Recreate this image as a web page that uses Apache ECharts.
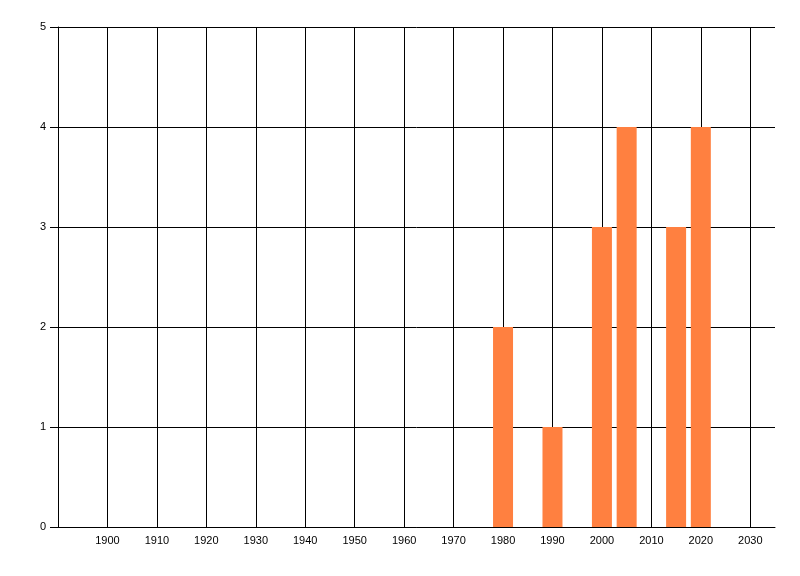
<!DOCTYPE html>
<html>
<head>
<meta charset="utf-8">
<script src="https://cdn.jsdelivr.net/npm/echarts@6/dist/echarts.min.js"></script>
<style>
  html, body { margin: 0; padding: 0; background: #fff; }
  #chart { width: 800px; height: 576px; }
</style>
</head>
<body>
<div id="chart"></div>
<script>
// data
const years = [1980, 1990, 2000, 2005, 2015, 2020]
const counts = [2, 1, 3, 4, 3, 4]

const chart = echarts.init(document.getElementById('chart'))

chart.setOption({
  animation: false,
  grid: { left: 58, right: 25, top: 27, bottom: 49 },
  xAxis: {
    type: 'value',
    min: 1890,
    max: 2035,
    interval: 10,
    axisLine: { show: true, lineStyle: { color: '#000', width: 1 } },
    axisTick: { show: false },
    axisLabel: {
      color: '#000',
      fontFamily: 'Liberation Sans',
      fontSize: 11,
      margin: 8,
      showMinLabel: false,
      showMaxLabel: false,
      formatter: v => String(v)
    },
    splitLine: {
      show: true,
      showMinLine: false,
      showMaxLine: false,
      lineStyle: { color: '#000', width: 1 }
    }
  },
  yAxis: {
    type: 'value',
    min: 0,
    max: 5,
    interval: 1,
    axisLine: { show: true, lineStyle: { color: '#000', width: 1 } },
    axisTick: { show: true, length: 8, lineStyle: { color: '#000' } },
    axisLabel: {
      color: '#000',
      fontFamily: 'Liberation Sans',
      fontSize: 11,
      margin: 12
    },
    splitLine: { show: true, lineStyle: { color: '#000', width: 1 } }
  },
  series: [
    {
      type: 'bar',
      barWidth: 20,
      itemStyle: { color: '#FF8040' },
      data: years.map((y, i) => [y, counts[i]])
    }
  ]
})
</script>
</body>
</html>
